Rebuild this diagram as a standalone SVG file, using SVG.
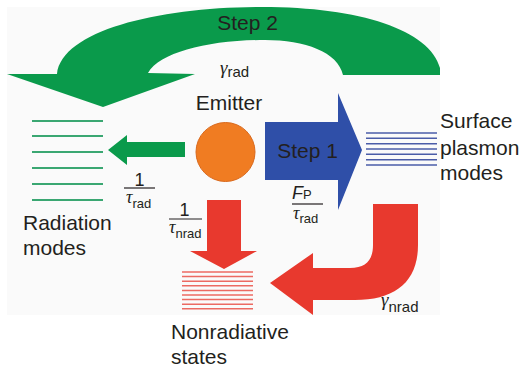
<svg xmlns="http://www.w3.org/2000/svg" width="520" height="371" viewBox="0 0 520 371">
<style>
.lbl{font-family:"Liberation Sans",Arial,sans-serif;font-size:21px;fill:#231f20}
.gr{font-family:"Liberation Serif","Times New Roman",serif;font-style:italic;fill:#231f20}
.sub{font-family:"Liberation Sans",Arial,sans-serif;fill:#231f20}
.num{font-family:"Liberation Sans",Arial,sans-serif;font-size:18px;fill:#231f20}
.fl{stroke:#231f20;stroke-width:1.2}
.gl{stroke:#3aa772;stroke-width:2}
.bl{stroke:#4a5ca8;stroke-width:1.6}
.rl{stroke:#ec6a62;stroke-width:1.5}
</style>
<rect x="0" y="0" width="520" height="371" fill="#ffffff"/>
<rect x="7" y="7" width="433" height="308" fill="#fafafa"/>
<g id="connectors">
  <path id="step2-arrow" d="M57,74 C62,30 160,7 262,7 C360,7 430,30 440,68 L440,75 L343,75 C338,52 305,40 265,40 C210,40 160,52 148,73 L195,74 L103,107 L7,74 Z" fill="#0a9a4b"/>
  <path id="step1-arrow" d="M265,122 L338,122 L338,93 L362,150 L338,210 L338,180 L265,180 Z" fill="#2f4fa8"/>
  <path id="rad-arrow" d="M185,142 L127,142 L127,135 L108,150 L127,165 L127,157 L185,157 Z" fill="#0a9a4b"/>
  <path id="nrad-arrow" d="M207,200 L241,200 L241,251 L257,251 L224,269 L190,251 L207,251 Z" fill="#e8392e"/>
  <path id="gnrad-arrow" d="M373,204 L418,204 L418,245 C418,282 395,300 355,300 L313,300 L313,315 L270,283 L313,253 L313,268 L350,268 C366,268 373,260 373,245 Z" fill="#e8392e"/>
</g>
<g id="emitter">
  <circle cx="225.5" cy="152" r="29.5" fill="#f07c22" stroke="#d9681b" stroke-width="1"/>
  <text class="lbl" x="229" y="110" text-anchor="middle">Emitter</text>
</g>
<g id="radiation-modes">
  <line class="gl" x1="32" y1="121" x2="103" y2="121"/>
  <line class="gl" x1="32" y1="136" x2="103" y2="136"/>
  <line class="gl" x1="32" y1="152" x2="103" y2="152"/>
  <line class="gl" x1="32" y1="168" x2="103" y2="168"/>
  <line class="gl" x1="32" y1="184" x2="103" y2="184"/>
  <line class="gl" x1="32" y1="200" x2="103" y2="200"/>
  <text class="lbl" x="23" y="230">Radiation</text>
  <text class="lbl" x="23" y="255">modes</text>
</g>
<g id="surface-plasmon-modes">
  <line class="bl" x1="366" y1="133" x2="437" y2="133"/>
  <line class="bl" x1="366" y1="138.3" x2="437" y2="138.3"/>
  <line class="bl" x1="366" y1="143.7" x2="437" y2="143.7"/>
  <line class="bl" x1="366" y1="149" x2="437" y2="149"/>
  <line class="bl" x1="366" y1="154.3" x2="437" y2="154.3"/>
  <line class="bl" x1="366" y1="159.7" x2="437" y2="159.7"/>
  <line class="bl" x1="366" y1="165" x2="437" y2="165"/>
  <text class="lbl" x="440" y="128">Surface</text>
  <text class="lbl" x="440" y="155">plasmon</text>
  <text class="lbl" x="440" y="180">modes</text>
</g>
<g id="nonradiative-states">
  <line class="rl" x1="182" y1="272" x2="253" y2="272"/>
  <line class="rl" x1="182" y1="276.6" x2="253" y2="276.6"/>
  <line class="rl" x1="182" y1="281.2" x2="253" y2="281.2"/>
  <line class="rl" x1="182" y1="285.8" x2="253" y2="285.8"/>
  <line class="rl" x1="182" y1="290.4" x2="253" y2="290.4"/>
  <line class="rl" x1="182" y1="295" x2="253" y2="295"/>
  <line class="rl" x1="182" y1="299.6" x2="253" y2="299.6"/>
  <line class="rl" x1="182" y1="304.2" x2="253" y2="304.2"/>
  <line class="rl" x1="182" y1="308.8" x2="253" y2="308.8"/>
  <text class="lbl" x="171" y="339">Nonradiative</text>
  <text class="lbl" x="171" y="364">states</text>
</g>
<g id="labels">
  <text class="lbl" x="247.5" y="30" text-anchor="middle">Step 2</text>
  <text class="lbl" x="307.5" y="158" text-anchor="middle">Step 1</text>
  <text x="220" y="74"><tspan class="gr" font-size="19">γ</tspan><tspan class="sub" font-size="15" dy="3">rad</tspan></text>
  <text x="381" y="306"><tspan class="gr" font-size="19">γ</tspan><tspan class="sub" font-size="15" dy="6">nrad</tspan></text>
  <text class="num" x="139.5" y="186" text-anchor="middle">1</text>
  <line class="fl" x1="124" y1="188" x2="155" y2="188"/>
  <text x="126" y="203"><tspan class="gr" font-size="18">τ</tspan><tspan class="sub" font-size="13" dy="5">rad</tspan></text>
  <text class="num" x="184.5" y="216" text-anchor="middle">1</text>
  <line class="fl" x1="169" y1="219" x2="202" y2="219"/>
  <text x="169" y="233"><tspan class="gr" font-size="18">τ</tspan><tspan class="sub" font-size="13" dy="5">nrad</tspan></text>
  <text x="292" y="199"><tspan class="sub" font-size="18" font-style="italic">F</tspan><tspan class="sub" font-size="13" dy="0">P</tspan></text>
  <line class="fl" x1="292" y1="204" x2="323" y2="204"/>
  <text x="293" y="219"><tspan class="gr" font-size="18">τ</tspan><tspan class="sub" font-size="13" dy="4">rad</tspan></text>
</g>
</svg>
